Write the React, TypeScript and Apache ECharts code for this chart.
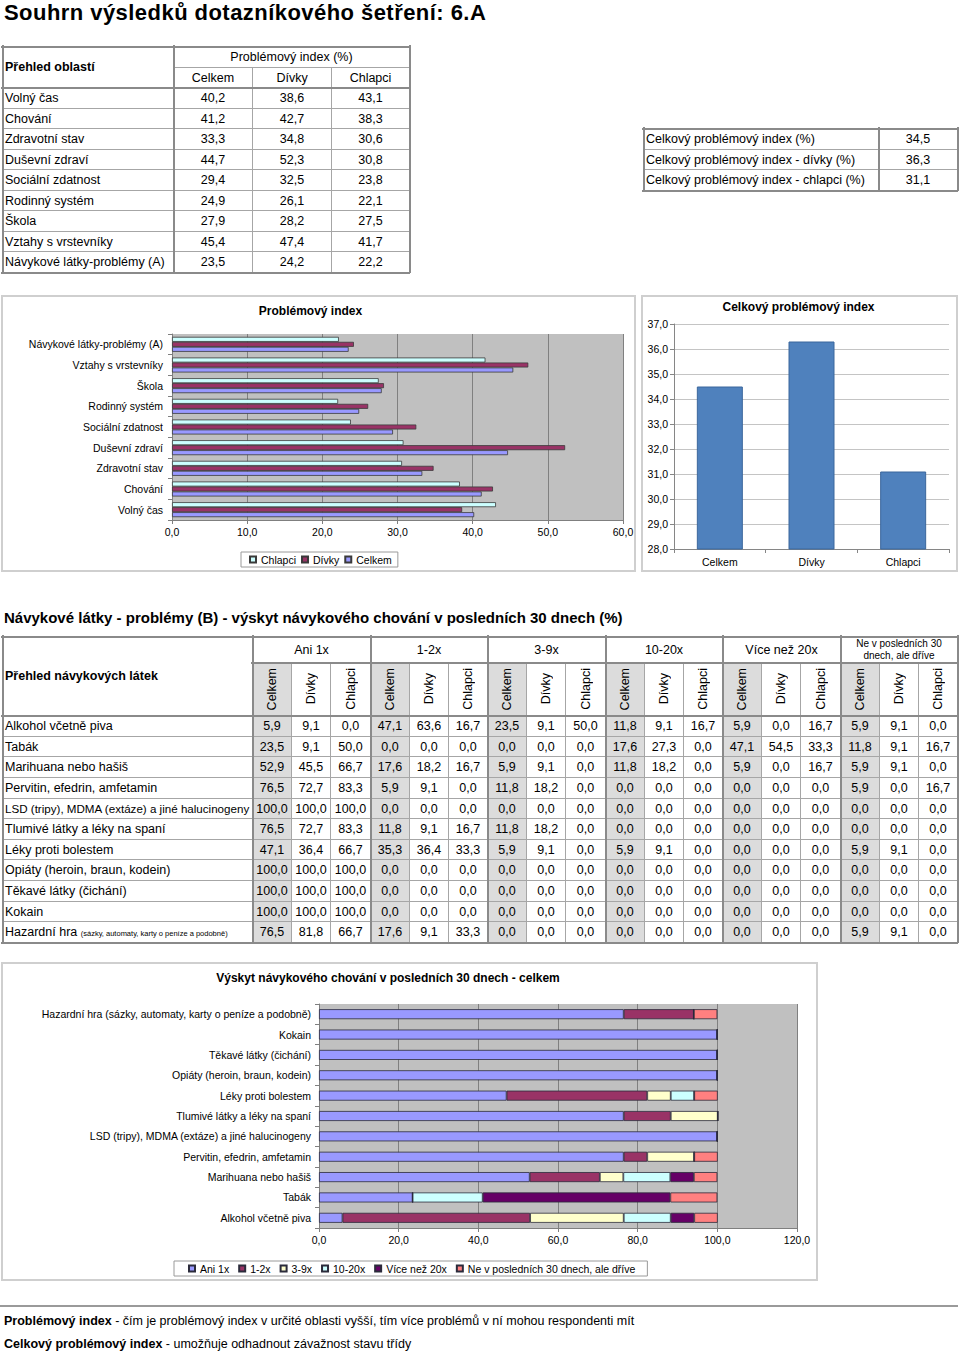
import React, { useEffect, useRef } from "react";
import * as echarts from "echarts";

const FONT = '"Liberation Sans", Arial, Helvetica, sans-serif';

// ---------- data: problem index by area ----------
const areaCategories = [
  "Volný čas",
  "Chování",
  "Zdravotní stav",
  "Duševní zdraví",
  "Sociální zdatnost",
  "Rodinný systém",
  "Škola",
  "Vztahy s vrstevníky",
  "Návykové látky-problémy (A)",
];
const areaCelkem = [40.2, 41.2, 33.3, 44.7, 29.4, 24.9, 27.9, 45.4, 23.5];
const areaDivky = [38.6, 42.7, 34.8, 52.3, 32.5, 26.1, 28.2, 47.4, 24.2];
const areaChlapci = [43.1, 38.3, 30.6, 30.8, 23.8, 22.1, 27.5, 41.7, 22.2];

// ---------- data: overall index ----------
const totalRowLabels = [
  "Celkový problémový index (%)",
  "Celkový problémový index - dívky (%)",
  "Celkový problémový index - chlapci (%)",
];
const totalCategories = ["Celkem", "Dívky", "Chlapci"];
const totalValues = [34.5, 36.3, 31.1];

// ---------- data: substances ----------
const substances = [
  "Alkohol včetně piva",
  "Tabák",
  "Marihuana nebo hašiš",
  "Pervitin, efedrin, amfetamin",
  "LSD (tripy), MDMA (extáze) a jiné halucinogeny",
  "Tlumivé látky a léky na spaní",
  "Léky proti bolestem",
  "Opiáty (heroin, braun, kodein)",
  "Těkavé látky (čichání)",
  "Kokain",
  "Hazardní hra (sázky, automaty, karty o peníze a podobně)",
];
const freqGroups = ["Ani 1x", "1-2x", "3-9x", "10-20x", "Více než 20x", "Ne v posledních 30 dnech, ale dříve"];
const genderCols = ["Celkem", "Dívky", "Chlapci"];
// rows follow `substances`; each triple = [Celkem, Dívky, Chlapci]
const freqAni1x = [
  [5.9, 9.1, 0.0], [23.5, 9.1, 50.0], [52.9, 45.5, 66.7], [76.5, 72.7, 83.3], [100.0, 100.0, 100.0],
  [76.5, 72.7, 83.3], [47.1, 36.4, 66.7], [100.0, 100.0, 100.0], [100.0, 100.0, 100.0], [100.0, 100.0, 100.0],
  [76.5, 81.8, 66.7],
];
const freq1to2 = [
  [47.1, 63.6, 16.7], [0.0, 0.0, 0.0], [17.6, 18.2, 16.7], [5.9, 9.1, 0.0], [0.0, 0.0, 0.0],
  [11.8, 9.1, 16.7], [35.3, 36.4, 33.3], [0.0, 0.0, 0.0], [0.0, 0.0, 0.0], [0.0, 0.0, 0.0],
  [17.6, 9.1, 33.3],
];
const freq3to9 = [
  [23.5, 9.1, 50.0], [0.0, 0.0, 0.0], [5.9, 9.1, 0.0], [11.8, 18.2, 0.0], [0.0, 0.0, 0.0],
  [11.8, 18.2, 0.0], [5.9, 9.1, 0.0], [0.0, 0.0, 0.0], [0.0, 0.0, 0.0], [0.0, 0.0, 0.0],
  [0.0, 0.0, 0.0],
];
const freq10to20 = [
  [11.8, 9.1, 16.7], [17.6, 27.3, 0.0], [11.8, 18.2, 0.0], [0.0, 0.0, 0.0], [0.0, 0.0, 0.0],
  [0.0, 0.0, 0.0], [5.9, 9.1, 0.0], [0.0, 0.0, 0.0], [0.0, 0.0, 0.0], [0.0, 0.0, 0.0],
  [0.0, 0.0, 0.0],
];
const freqOver20 = [
  [5.9, 0.0, 16.7], [47.1, 54.5, 33.3], [5.9, 0.0, 16.7], [0.0, 0.0, 0.0], [0.0, 0.0, 0.0],
  [0.0, 0.0, 0.0], [0.0, 0.0, 0.0], [0.0, 0.0, 0.0], [0.0, 0.0, 0.0], [0.0, 0.0, 0.0],
  [0.0, 0.0, 0.0],
];
const freqEarlier = [
  [5.9, 9.1, 0.0], [11.8, 9.1, 16.7], [5.9, 9.1, 0.0], [5.9, 0.0, 16.7], [0.0, 0.0, 0.0],
  [0.0, 0.0, 0.0], [5.9, 9.1, 0.0], [0.0, 0.0, 0.0], [0.0, 0.0, 0.0], [0.0, 0.0, 0.0],
  [5.9, 9.1, 0.0],
];
const freqTable = [freqAni1x, freq1to2, freq3to9, freq10to20, freqOver20, freqEarlier];
const freqColors = ["#9999ff", "#993366", "#ffffcc", "#ccffff", "#660066", "#ff8080"];

const fmt = (v: number) => Number(v).toFixed(1).replace(".", ",");

// ---------- helpers ----------
const LINE = "#a6a6a6";
const THICK = "#8a8a8a";

type BoxProps = {
  x0: number; x1: number; y0: number; y1: number;
  bg?: string; left?: boolean; children?: React.ReactNode; style?: React.CSSProperties;
};
function Box({ x0, x1, y0, y1, bg, left, children, style }: BoxProps) {
  return (
    <div
      style={{
        position: "absolute", left: x0, top: y0, width: x1 - x0 + 1, height: y1 - y0 + 1,
        boxSizing: "border-box", border: `1px solid ${LINE}`, background: bg,
        display: "flex", alignItems: "center", justifyContent: left ? "flex-start" : "center",
        paddingLeft: left ? 2 : 0, whiteSpace: "nowrap", overflow: "hidden", ...style,
      }}
    >
      {children}
    </div>
  );
}
function HL({ x0, x1, y, t = 2, c = THICK }: { x0: number; x1: number; y: number; t?: number; c?: string }) {
  return <div style={{ position: "absolute", left: x0 - t / 2, top: y - t / 2 + 0.5, width: x1 - x0 + t, height: t, background: c }} />;
}
function VL({ x, y0, y1, t = 2, c = THICK }: { x: number; y0: number; y1: number; t?: number; c?: string }) {
  return <div style={{ position: "absolute", left: x - t / 2 + 0.5, top: y0 - t / 2, width: t, height: y1 - y0 + t, background: c }} />;
}
function Frame({ x0, x1, y0, y1 }: { x0: number; x1: number; y0: number; y1: number }) {
  return (
    <>
      <HL x0={x0} x1={x1} y={y0} />
      <HL x0={x0} x1={x1} y={y1} />
      <VL x={x0} y0={y0} y1={y1} />
      <VL x={x1} y0={y0} y1={y1} />
    </>
  );
}

function Chart({ left, top, width, height, option }: { left: number; top: number; width: number; height: number; option: any }) {
  const ref = useRef<HTMLDivElement>(null);
  useEffect(() => {
    const chart = echarts.init(ref.current!, undefined, { renderer: "svg" });
    chart.setOption(option);
    return () => chart.dispose();
  }, []);
  return <div ref={ref} style={{ position: "absolute", left, top, width, height }} />;
}

function ChartFrame({ x0, x1, y0, y1 }: { x0: number; x1: number; y0: number; y1: number }) {
  return (
    <div
      style={{
        position: "absolute", left: x0, top: y0, width: x1 - x0, height: y1 - y0,
        border: "2px solid #cfcfcf", boxSizing: "border-box", pointerEvents: "none",
      }}
    />
  );
}

const titleText = (text: string, x: number, y: number) => ({
  type: "text",
  x, y,
  silent: true,
  style: {
    text, fill: "#000", font: `bold 12px ${FONT}`,
    textAlign: "center", textVerticalAlign: "middle", align: "center", verticalAlign: "middle",
  },
});

// ---------- chart options ----------
const axisGray = "#7f7f7f";
const chart1Option = {
  animation: false,
  textStyle: { fontFamily: FONT },
  graphic: [titleText("Problémový index", 309.5, 16)],
  grid: { left: 171, top: 39, width: 451, height: 186, show: true, backgroundColor: "#c0c0c0", borderWidth: 0, outerBoundsMode: "none" },
  legend: {
    left: 240, top: 257, padding: [2, 6, 2, 8], itemGap: 5, itemWidth: 6, itemHeight: 6,
    borderColor: "#9a9a9a", borderWidth: 1, backgroundColor: "#fff", icon: "rect",
    textStyle: { fontSize: 10.5, color: "#000", fontFamily: FONT },
    data: ["Chlapci", "Dívky", "Celkem"],
  },
  xAxis: {
    type: "value", min: 0, max: 60, interval: 10,
    axisLabel: { formatter: fmt, fontSize: 10.5, color: "#000", margin: 6, fontFamily: FONT },
    splitLine: { show: true, lineStyle: { color: "#808080", width: 1 } },
    axisLine: { show: true, lineStyle: { color: axisGray } },
    axisTick: { show: true, length: 4, lineStyle: { color: axisGray } },
  },
  yAxis: {
    type: "category", data: areaCategories,
    axisLabel: { fontSize: 10.5, color: "#000", margin: 9, fontFamily: FONT },
    axisLine: { show: true, lineStyle: { color: axisGray } },
    axisTick: { show: true, length: 4, lineStyle: { color: axisGray } },
  },
  series: [
    { name: "Chlapci", type: "bar", data: areaChlapci, barWidth: 5, barGap: "0%", itemStyle: { color: "#ccffff", borderColor: "#3a3a3a", borderWidth: 0.8 } },
    { name: "Dívky", type: "bar", data: areaDivky, barWidth: 5, barGap: "0%", itemStyle: { color: "#993366", borderColor: "#3a3a3a", borderWidth: 0.8 } },
    { name: "Celkem", type: "bar", data: areaCelkem, barWidth: 5, barGap: "0%", itemStyle: { color: "#9999ff", borderColor: "#3a3a3a", borderWidth: 0.8 } },
  ],
};

const chart2Option = {
  animation: false,
  textStyle: { fontFamily: FONT },
  graphic: [titleText("Celkový problémový index", 157.5, 12)],
  grid: { left: 33, top: 29, width: 275, height: 225, outerBoundsMode: "none" },
  xAxis: {
    type: "category", data: totalCategories,
    axisLabel: { fontSize: 10.5, color: "#000", margin: 7, fontFamily: FONT },
    axisLine: { show: true, lineStyle: { color: "#868686" } },
    axisTick: { show: true, length: 4, lineStyle: { color: "#868686" } },
  },
  yAxis: {
    type: "value", min: 28, max: 37, interval: 1,
    axisLabel: { formatter: fmt, fontSize: 10.5, color: "#000", margin: 6, fontFamily: FONT },
    splitLine: { show: true, lineStyle: { color: "#c4c4c4" } },
    axisLine: { show: true, lineStyle: { color: "#868686" } },
    axisTick: { show: true, length: 4, lineStyle: { color: "#868686" } },
  },
  series: [
    { type: "bar", data: totalValues, barWidth: 46, itemStyle: { color: "#4f81bd", borderColor: "#3b679c", borderWidth: 1 } },
  ],
};

const chart3Option = {
  animation: false,
  textStyle: { fontFamily: FONT },
  graphic: [titleText("Výskyt návykového chování v posledních 30 dnech - celkem", 387, 16)],
  grid: { left: 318, top: 42, width: 478, height: 224, show: true, backgroundColor: "#c0c0c0", borderWidth: 0, outerBoundsMode: "none" },
  legend: {
    left: 173, top: 299, padding: [2, 12, 2, 14], itemGap: 9, itemWidth: 6, itemHeight: 6,
    borderColor: "#9a9a9a", borderWidth: 1, backgroundColor: "#fff", icon: "rect",
    textStyle: { fontSize: 10.5, color: "#000", fontFamily: FONT },
  },
  xAxis: {
    type: "value", min: 0, max: 120, interval: 20,
    axisLabel: { formatter: fmt, fontSize: 10.5, color: "#000", margin: 6, fontFamily: FONT },
    splitLine: { show: true, lineStyle: { color: "#808080" } },
    axisLine: { show: true, lineStyle: { color: axisGray } },
    axisTick: { show: true, length: 4, lineStyle: { color: axisGray } },
  },
  yAxis: {
    type: "category", data: substances,
    axisLabel: { fontSize: 10.5, color: "#000", margin: 8, fontFamily: FONT },
    axisLine: { show: true, lineStyle: { color: axisGray } },
    axisTick: { show: true, length: 4, lineStyle: { color: axisGray } },
  },
  series: freqGroups.map((name, g) => ({
    name, type: "bar", stack: "total", barWidth: 10,
    data: freqTable[g].map((row) => row[0]),
    itemStyle: { color: freqColors[g], borderColor: "#2b2b3b", borderWidth: 0.8 },
  })),
};

// ---------- layout constants ----------
const T1X = [2, 173, 252, 331, 409];
const T1Y = [46, 67, 87, 108, 128, 149, 169, 190, 210, 231, 251, 272];
const T2X = [643, 878, 957];
const T2Y = [128, 149, 169, 190];
const T3XL = 252, T3X1 = 957;
const cx = (i: number) => Math.round(T3XL + (i * (T3X1 - T3XL)) / 18);
const ry = (i: number) => Math.round(715 + (i * (942 - 715)) / 11);

export default function App() {
  const fs = 12.5;
  return (
    <div style={{ position: "absolute", left: 0, top: 0, width: 960, height: 1352, background: "#fff", fontFamily: FONT, fontSize: fs, color: "#000", overflow: "hidden" }}>
      {/* main title */}
      <div style={{ position: "absolute", left: 4, top: 1, fontSize: 22, lineHeight: "24px", letterSpacing: "0.45px", fontWeight: "bold", whiteSpace: "nowrap" }}>
        Souhrn výsledků dotazníkového šetření: 6.A
      </div>

      {/* table 1 */}
      <Box x0={T1X[0]} x1={T1X[1]} y0={T1Y[0]} y1={T1Y[2]} left style={{ fontWeight: "bold" }}>Přehled oblastí</Box>
      <Box x0={T1X[1]} x1={T1X[4]} y0={T1Y[0]} y1={T1Y[1]}>Problémový index (%)</Box>
      {genderCols.map((g, i) => (
        <Box key={g} x0={T1X[i + 1]} x1={T1X[i + 2]} y0={T1Y[1]} y1={T1Y[2]}>{g}</Box>
      ))}
      {areaCategories.map((name, r) => (
        <React.Fragment key={name}>
          <Box x0={T1X[0]} x1={T1X[1]} y0={T1Y[r + 2]} y1={T1Y[r + 3]} left>{name}</Box>
          {[areaCelkem, areaDivky, areaChlapci].map((arr, c) => (
            <Box key={c} x0={T1X[c + 1]} x1={T1X[c + 2]} y0={T1Y[r + 2]} y1={T1Y[r + 3]}>{fmt(arr[r])}</Box>
          ))}
        </React.Fragment>
      ))}
      <Frame x0={T1X[0]} x1={T1X[4]} y0={T1Y[0]} y1={T1Y[11]} />
      <VL x={T1X[1]} y0={T1Y[0]} y1={T1Y[11]} />
      <HL x0={T1X[0]} x1={T1X[4]} y={T1Y[2]} />

      {/* table 2 */}
      {totalRowLabels.map((name, r) => (
        <React.Fragment key={name}>
          <Box x0={T2X[0]} x1={T2X[1]} y0={T2Y[r]} y1={T2Y[r + 1]} left>{name}</Box>
          <Box x0={T2X[1]} x1={T2X[2]} y0={T2Y[r]} y1={T2Y[r + 1]}>{fmt(totalValues[r])}</Box>
        </React.Fragment>
      ))}
      <Frame x0={T2X[0]} x1={T2X[2]} y0={T2Y[0]} y1={T2Y[3]} />
      <VL x={T2X[1]} y0={T2Y[0]} y1={T2Y[3]} />

      {/* charts row 1 */}
      <Chart left={1} top={295} width={635} height={277} option={chart1Option} />
      <ChartFrame x0={1} x1={636} y0={295} y1={572} />
      <Chart left={641} top={295} width={317} height={277} option={chart2Option} />
      <ChartFrame x0={641} x1={958} y0={295} y1={572} />

      {/* section title */}
      <div style={{ position: "absolute", left: 4, top: 608, fontSize: 15, lineHeight: "19px", fontWeight: "bold", whiteSpace: "nowrap" }}>
        Návykové látky - problémy (B) - výskyt návykového chování v posledních 30 dnech (%)
      </div>

      {/* table 3 */}
      <Box x0={2} x1={T3XL} y0={636} y1={715} left style={{ fontWeight: "bold" }}>Přehled návykových látek</Box>
      {freqGroups.map((name, g) => (
        <Box key={name} x0={cx(3 * g)} x1={cx(3 * g + 3)} y0={636} y1={662}
          style={g === 5 ? { fontSize: 10, lineHeight: "12px", whiteSpace: "normal", textAlign: "center", padding: "0 6px" } : undefined}>
          {name}
        </Box>
      ))}
      {Array.from({ length: 18 }, (_, c) => (
        <Box key={"h" + c} x0={cx(c)} x1={cx(c + 1)} y0={662} y1={715} bg={c % 3 === 0 ? "#dcdcdc" : undefined}>
          <div style={{ writingMode: "vertical-rl", transform: "rotate(180deg)", lineHeight: "14px" }}>{genderCols[c % 3]}</div>
        </Box>
      ))}
      {substances.map((name, r) => {
        const hazard = r === substances.length - 1;
        const idx = name.indexOf(" (");
        return (
          <React.Fragment key={name}>
            <Box x0={2} x1={T3XL} y0={ry(r)} y1={ry(r + 1)} left style={r === 4 ? { fontSize: 11.6 } : undefined}>
              {hazard ? (
                <span>
                  {name.slice(0, idx)} <span style={{ fontSize: 7.5 }}>{name.slice(idx + 1)}</span>
                </span>
              ) : name}
            </Box>
            {Array.from({ length: 18 }, (_, c) => (
              <Box key={c} x0={cx(c)} x1={cx(c + 1)} y0={ry(r)} y1={ry(r + 1)} bg={c % 3 === 0 ? "#dcdcdc" : undefined}>
                {fmt(freqTable[Math.floor(c / 3)][r][c % 3])}
              </Box>
            ))}
          </React.Fragment>
        );
      })}
      <Frame x0={2} x1={T3X1} y0={636} y1={942} />
      <VL x={T3XL} y0={636} y1={942} />
      {[1, 2, 3, 4, 5].map((g) => <VL key={g} x={cx(3 * g)} y0={636} y1={942} />)}
      <HL x0={T3XL} x1={T3X1} y={662} />
      <HL x0={2} x1={T3X1} y={715} />

      {/* chart 3 */}
      <Chart left={1} top={962} width={817} height={319} option={chart3Option} />
      <ChartFrame x0={1} x1={818} y0={962} y1={1281} />

      {/* footer */}
      <div style={{ position: "absolute", left: 0, top: 1305, width: 958, height: 2, background: "#9a9a9a" }} />
      <div style={{ position: "absolute", left: 4, top: 1313, lineHeight: "16px", whiteSpace: "nowrap" }}>
        <b>Problémový index</b> - čím je problémový index v určité oblasti vyšší, tím více problémů v ní mohou respondenti mít
      </div>
      <div style={{ position: "absolute", left: 4, top: 1336, lineHeight: "16px", whiteSpace: "nowrap" }}>
        <b>Celkový problémový index</b> - umožňuje odhadnout závažnost stavu třídy
      </div>
    </div>
  );
}
